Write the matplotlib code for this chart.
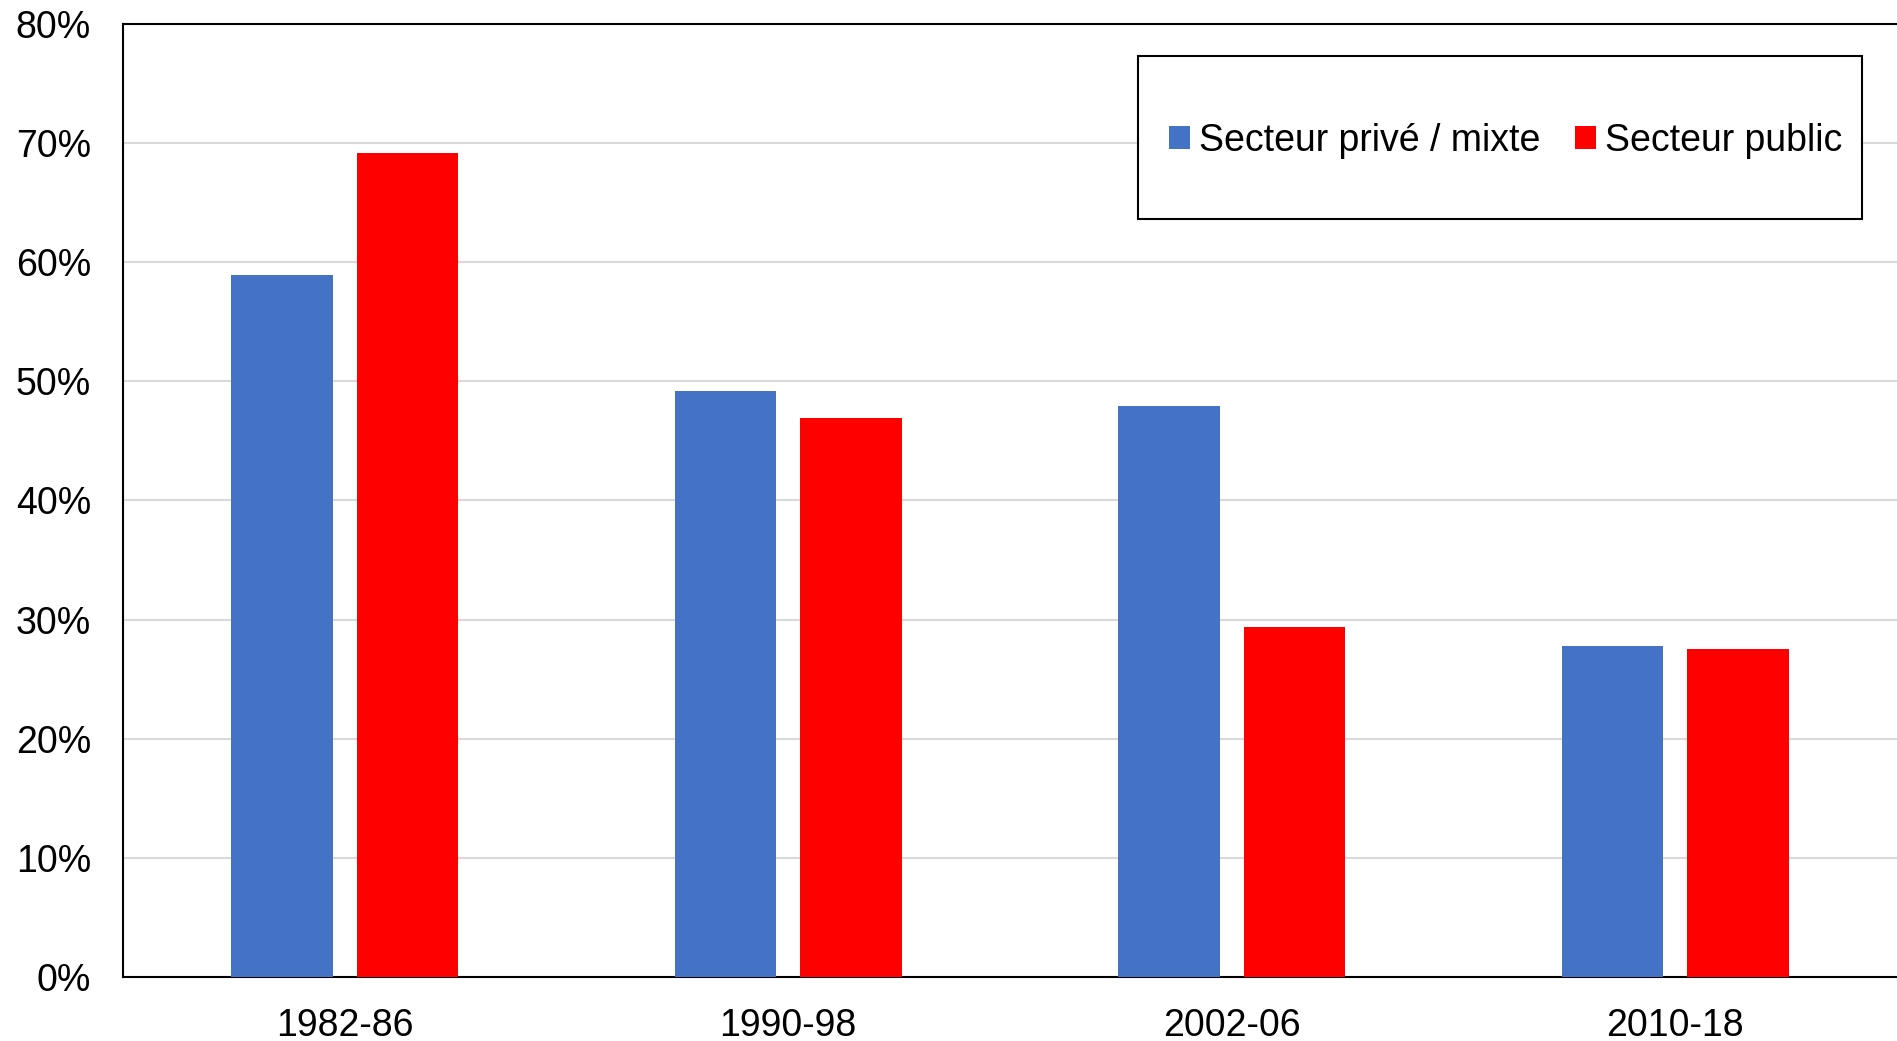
#!/usr/bin/env python3
# grouped bars, private/mixed vs public sector share by period

import matplotlib as mpl
from matplotlib import pyplot as plt
from matplotlib.patches import Rectangle
import numpy as np

mpl.rcParams["font.family"] = ["Liberation Sans", "DejaVu Sans"]
mpl.rcParams["font.size"] = 27

periods = ["1982-86", "1990-98", "2002-06", "2010-18"]
prive = [58.9, 49.2, 47.9, 27.8]
public = [69.2, 46.9, 29.4, 27.5]
labels = ["Secteur privé / mixte", "Secteur public"]
yticks = [0, 10, 20, 30, 40, 50, 60, 70, 80]

blue = "#4472c4"
red = "#ff0000"

fig = plt.figure(figsize=(18.97, 10.41), dpi=100)
fig.subplots_adjust(left=0.0648, right=1.0, top=0.977, bottom=0.0615)
ax = fig.add_subplot(111)

x = np.arange(len(periods)) + 0.5
w = 0.229
off = 0.1415
ax.bar(x - off, prive, w, color=blue, label=labels[0], zorder=3)
ax.bar(x + off, public, w, color=red, label=labels[1], zorder=3)

ax.set_xlim(0, len(periods))
ax.set_ylim(0, 80)
ax.set_yticks(yticks)
ax.set_yticklabels(["{}%".format(v) for v in yticks])
ax.set_xticks(x)
ax.set_xticklabels(periods)
ax.tick_params(axis="y", length=0, pad=23)
ax.tick_params(axis="x", length=0, pad=22)

ax.grid(axis="y", color="#d9d9d9", linewidth=1.5, zorder=0)
ax.set_axisbelow(True)
for s in ["left", "bottom", "top"]:
    ax.spines[s].set_linewidth(1.5)
    ax.spines[s].set_color("black")
ax.spines["right"].set_visible(False)

# legend box (drawn by hand, legend itself has no frame)
box = Rectangle((0.5722, 0.7954), 0.4081, 0.171, transform=ax.transAxes,
                facecolor="white", edgecolor="black", linewidth=1.5, zorder=4)
ax.add_patch(box)
leg = ax.legend(loc="center", bbox_to_anchor=(0.7793, 0.8770), ncol=2,
                frameon=False, handlelength=0.56, handleheight=0.56,
                handletextpad=0.24, columnspacing=0.93, fontsize=27,
                borderpad=0, borderaxespad=0)
leg.set_zorder(5)

plt.savefig("out.png", dpi=100)
